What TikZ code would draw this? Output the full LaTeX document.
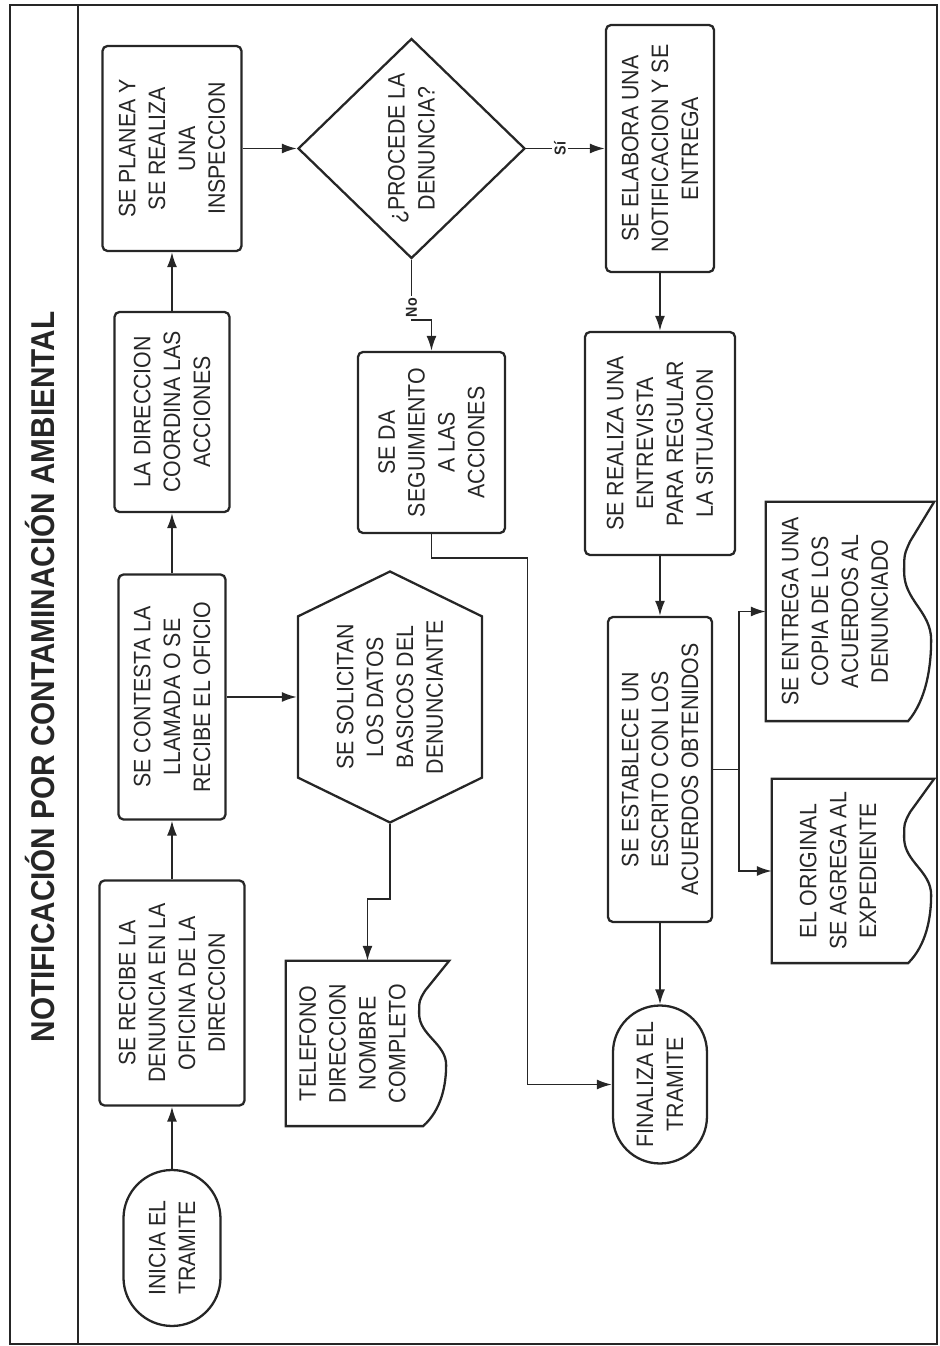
\documentclass[tikz,border=0pt]{standalone}
\usepackage{fontspec}
\setmainfont{Liberation Sans}[FakeStretch=0.9]
\usetikzlibrary{shapes.geometric,shapes.misc,shapes.symbols,arrows.meta,calc}

\tikzset{
  base/.style={draw=black!85, line width=1.3pt, align=center, text=black!85,
    font=\fontsize{13.5}{17}\selectfont, inner sep=2pt},
  proc/.style={base, rectangle, rounded corners=1mm},
  term/.style={base, rounded rectangle},
  decision/.style={base, diamond, inner sep=0pt},
  prep/.style={base, signal, signal to=east and west, signal pointer angle=128},
  docu/.style={base, rectangle, draw=none},
  outl/.style={draw=black!85, line width=1.3pt},
  arr/.style={draw=black!85, line width=1pt, -{Latex[length=3mm,width=2mm]}},
  lbl/.style={fill=white, inner sep=1pt, text=black!85, font=\fontsize{9}{10}\selectfont\bfseries},
}

% outline of a document node: the wavy edge hangs below the node
\newcommand{\docframe}[1]{%
  \draw[outl] ($(#1.south west)+(0,-0.08)$) |- (#1.north east) -- ($(#1.south east)+(0,-0.6)$)
    -- ($(#1.south west)!0.82!(#1.south east)+(0,-0.12)$)
    .. controls ($(#1.south west)!0.76!(#1.south east)$) .. ($(#1.south west)!0.68!(#1.south east)$)
    .. controls ($(#1.south west)!0.55!(#1.south east)$) and ($(#1.south west)!0.5!(#1.south east)+(0,-0.54)$)
    .. ($(#1.south west)!0.37!(#1.south east)+(0,-0.54)$)
    .. controls ($(#1.south west)!0.25!(#1.south east)+(0,-0.54)$) and ($(#1.south west)!0.1!(#1.south east)+(0,-0.45)$)
    .. cycle;}

\begin{document}
\begin{tikzpicture}[rotate=90, transform shape] % the whole sheet is turned
  \useasboundingbox (0,0) rectangle (26.92,18.8);
  % frame and title column
  \draw[black!85, line width=1.3pt] (0.04,0.06) rectangle (26.82,18.6);
  \draw[black!85, line width=1.3pt] (0.04,17.24) -- (26.82,17.24);
  \node[text=black!85, font=\fontsize{18.8}{22}\selectfont\bfseries] (titulo) at (13.38,18.0) {NOTIFICACIÓN POR CONTAMINACIÓN AMBIENTAL};

  % first row
  \node[term, minimum width=3.26cm, minimum height=1.94cm] (ini) at (1.96,15.36) {INICIA EL\\TRAMITE};
  \node[proc, minimum width=4.5cm, minimum height=2.9cm] (rec) at (7.06,15.36) {SE RECIBE LA\\DENUNCIA EN LA\\OFICINA DE LA\\DIRECCION};
  \node[proc, minimum width=4.9cm, minimum height=2.14cm] (con) at (12.98,15.36) {SE CONTESTA LA\\LLAMADA O SE\\RECIBE EL OFICIO};
  \node[proc, minimum width=4.0cm, minimum height=2.3cm] (coo) at (18.68,15.36) {LA DIRECCION\\COORDINA LAS\\ACCIONES};
  \node[proc, minimum width=4.1cm, minimum height=2.78cm] (pla) at (23.95,15.36) {SE PLANEA Y\\SE REALIZA\\UNA\\INSPECCION};

  % middle
  \node[decision, minimum width=4.4cm, minimum height=4.54cm] (dia) at (23.95,10.57) {¿PROCEDE LA\\DENUNCIA?};
  \node[proc, minimum width=3.62cm, minimum height=2.94cm] (seg) at (18.07,10.17) {SE DA\\SEGUIMIENTO\\A LAS\\ACCIONES};
  \node[prep, minimum width=4.42cm, minimum height=3.68cm] (sol) at (12.98,11.0) {SE SOLICITAN\\LOS DATOS\\BASICOS DEL\\DENUNCIANTE};
  \node[docu, minimum width=3.26cm, minimum height=2.62cm] (tel) at (6.05,11.75) {TELEFONO\\DIRECCION\\NOMBRE\\COMPLETO};
  \docframe{tel}

  % last rows
  \node[proc, minimum width=4.94cm, minimum height=2.16cm] (ela) at (23.95,5.6) {SE ELABORA UNA\\NOTIFICACION Y SE\\ENTREGA};
  \node[proc, minimum width=4.46cm, minimum height=3.0cm] (ent) at (18.05,5.6) {SE REALIZA UNA\\ENTREVISTA\\PARA REGULAR\\LA SITUACION};
  \node[proc, minimum width=6.1cm, minimum height=2.08cm] (esc) at (11.53,5.6) {SE ESTABLECE UN\\ESCRITO CON LOS\\ACUERDOS OBTENIDOS};
  \node[term, minimum width=3.3cm, minimum height=1.88cm] (fin) at (5.23,5.6) {FINALIZA EL\\TRAMITE};
  \node[docu, minimum width=4.34cm, minimum height=2.72cm] (cop) at (14.69,2.1) {SE ENTREGA UNA\\COPIA DE LOS\\ACUERDOS AL\\DENUNCIADO};
  \docframe{cop}
  \node[docu, minimum width=3.64cm, minimum height=2.6cm] (ori) at (9.5,2.04) {EL ORIGINAL\\SE AGREGA AL\\EXPEDIENTE};
  \docframe{ori}

  % connectors
  \draw[arr] (ini.east) -- (rec.west);
  \draw[arr] (rec.east) -- (con.west);
  \draw[arr] (con.east) -- (coo.west);
  \draw[arr] (coo.east) -- (pla.west);
  \draw[arr] (pla.south) -- (dia.north);
  \draw[arr] (dia.south) -- node[lbl, pos=0.43] {Sí} (ela.north);
  \draw[arr] (dia.west) -- node[lbl, pos=0.8] {No} ++(-1.2,0) |- (seg.east);
  \draw[arr] (con.south) -- (sol.north);
  \draw[arr] (sol.west) -- ++(-1.5,0) |- ($(tel.east)+(0,-0.3)$);
  \draw[arr] (ela.west) -- (ent.east);
  \draw[arr] (ent.west) -- (esc.east);
  \draw[arr] (esc.west) -- (fin.east);
  \draw[arr] (esc.south) -- ++(0,-0.52) -| (cop.north);
  \draw[arr] (esc.south) -- ++(0,-0.52) -| (ori.north);
  \draw[arr] (seg.west) -- ++(-0.48,0) -- ++(0,-1.92) -| (fin.north);
\end{tikzpicture}
\end{document}
